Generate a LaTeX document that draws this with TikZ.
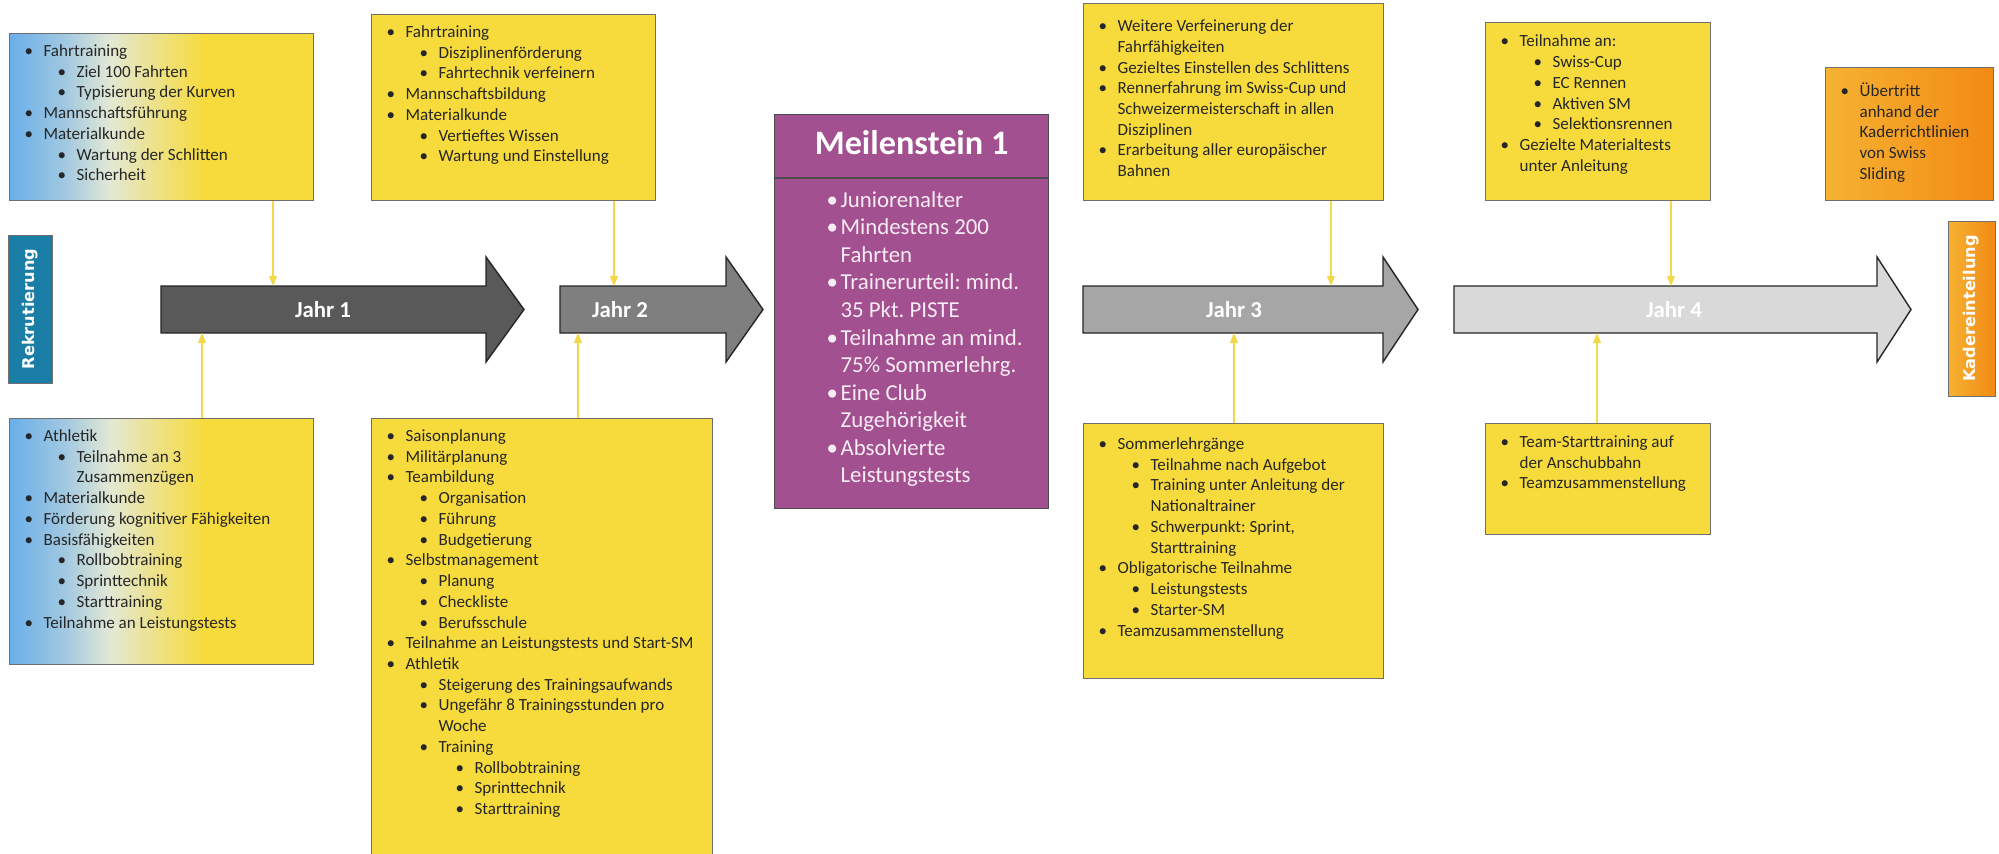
\documentclass[tikz,border=0pt]{standalone}
\usepackage{fontspec}
\setmainfont{Carlito}
\newfontfamily\balkenfont{DejaVu Sans}
\usepackage{enumitem}
\usetikzlibrary{arrows.meta}

\definecolor{gelb}{HTML}{F7DB3C}
\definecolor{rahmen}{HTML}{6F6F6F}
\definecolor{hellblau}{HTML}{6AAEEA}
\definecolor{blass}{HTML}{E3E8D5}
\definecolor{lila}{HTML}{A2508F}
\definecolor{lilaweiss}{HTML}{F8ECF5}
\definecolor{petrol}{HTML}{1A7DA6}
\definecolor{orangedunkel}{HTML}{F28A14}
\definecolor{orangehell}{HTML}{F6B232}
\definecolor{grauA}{HTML}{595959}
\definecolor{grauB}{HTML}{7F7F7F}
\definecolor{grauC}{HTML}{A6A6A6}
\definecolor{grauD}{HTML}{D9D9D9}
\definecolor{linie}{HTML}{F3D84A}

% Verlauf blau -> gelb fuer Jahr 1 (Kasten liegt zwischen 25bp und 75bp)
\pgfdeclarehorizontalshading{blaugelb}{100bp}{color(0bp)=(hellblau);
  color(25bp)=(hellblau); color(34bp)=(hellblau!55!blass); color(41.5bp)=(blass);
  color(49bp)=(gelb!50!blass); color(57bp)=(gelb); color(75bp)=(gelb); color(100bp)=(gelb)}

\frenchspacing
\setlist[itemize]{nosep, label=\textbullet, labelsep=6pt, leftmargin=0.66cm}
\setlist[itemize,1]{leftmargin=0.68cm}

% Kasteninhalt: [Listenoptionen]{Breite}{Hoehe}{Abstand oben}{Punkte}
\newcommand{\kastentext}[5][]{%
  \begin{minipage}[t][#3][t]{#2}\raggedright\hyphenpenalty=10000
  \vspace*{#4}\prevdepth=0pt
  \begin{itemize}[#1]#5\end{itemize}
  \end{minipage}}

\tikzset{kasten/.style = {draw=rahmen, line width=0.7pt, fill=gelb, anchor=north west,
                          inner sep=0pt, text=black!85,
                          font=\fontsize{9.7}{11.8}\selectfont}}
\tikzset{verlauf/.style = {kasten, shading=blaugelb}}
\tikzset{lilakasten/.style = {kasten, fill=lila, draw=black!70, text=lilaweiss,
                              font=\fontsize{13}{15.7}\selectfont}}
\tikzset{seitenbalken/.style = {draw=rahmen, line width=0.5pt, rotate=90, inner sep=0pt,
                                text=white, font=\balkenfont\bfseries\fontsize{9.2}{11}\selectfont}}
\tikzset{pfeil/.style = {draw=black!85, line width=0.8pt, line join=miter}}
\tikzset{pfeiltext/.style = {text=white, font=\bfseries\fontsize{13}{15}\selectfont}}
\tikzset{verbinder/.style = {draw=linie, line width=0.6pt,
                             -{Triangle[length=0.2cm, width=0.16cm]}}}

\begin{document}
\begin{tikzpicture}[x=0.02cm, y=-0.02cm]
  \useasboundingbox (0,0) rectangle (1999,853);
  \fill[white] (0,0) rectangle (1999,853);
  \clip (0,0) rectangle (1999,853);

  % Jahr-Pfeile
  \foreach \links/\kopf/\spitze/\farbe/\tx/\name/\beschr in
      {161/486/524/grauA/323/j1/Jahr 1, 560/726/763/grauB/620/j2/Jahr 2,
       1083/1383/1418/grauC/1234/j3/Jahr 3, 1454/1877/1911/grauD/1674/j4/Jahr 4} {
    \draw[pfeil, fill=\farbe] (\links,286) -- (\kopf,286) -- (\kopf,257) -- (\spitze,309.5)
        -- (\kopf,362) -- (\kopf,333) -- (\links,333) -- cycle;
    \node[pfeiltext] (\name) at (\tx,309.5) {\beschr};
  }

  % Rekrutierung / Kadereinteilung
  \node[seitenbalken, fill=petrol, minimum width=2.96cm, minimum height=0.88cm]
      (rekr) at (30,309) {Rekrutierung};
  \node[seitenbalken, left color=orangehell, right color=orangedunkel,
        minimum width=3.5cm, minimum height=0.94cm]
      (kader) at (1971.5,308.5) {Kadereinteilung};

  % Jahr 1
  \node[verlauf] (a1) at (9,33) {\kastentext{6.08cm}{3.34cm}{1.2pt}{%
    \item Fahrtraining
      \begin{itemize}
        \item Ziel 100 Fahrten
        \item Typisierung der Kurven
      \end{itemize}
    \item Mannschaftsführung
    \item Materialkunde
      \begin{itemize}
        \item Wartung der Schlitten
        \item Sicherheit
      \end{itemize}}};
  \node[verlauf] (b1) at (9,418) {\kastentext{6.08cm}{4.92cm}{1.2pt}{%
    \item Athletik
      \begin{itemize}
        \item Teilnahme an 3\\Zusammenzügen
      \end{itemize}
    \item Materialkunde
    \item Förderung kognitiver Fähigkeiten
    \item Basisfähigkeiten
      \begin{itemize}
        \item Rollbobtraining
        \item Sprinttechnik
        \item Starttraining
      \end{itemize}
    \item Teilnahme an Leistungstests}};

  % Jahr 2
  \node[kasten] (c2) at (371,14) {\kastentext{5.68cm}{3.72cm}{1.2pt}{%
    \item Fahrtraining
      \begin{itemize}
        \item Disziplinenförderung
        \item Fahrtechnik verfeinern
      \end{itemize}
    \item Mannschaftsbildung
    \item Materialkunde
      \begin{itemize}
        \item Vertieftes Wissen
        \item Wartung und Einstellung
      \end{itemize}}};
  \node[kasten] (d2) at (371,418) {\kastentext{6.82cm}{8.84cm}{1.2pt}{%
    \item Saisonplanung
    \item Militärplanung
    \item Teambildung
      \begin{itemize}
        \item Organisation
        \item Führung
        \item Budgetierung
      \end{itemize}
    \item Selbstmanagement
      \begin{itemize}
        \item Planung
        \item Checkliste
        \item Berufsschule
      \end{itemize}
    \item Teilnahme an Leistungstests und Start-SM
    \item Athletik
      \begin{itemize}
        \item Steigerung des Trainingsaufwands
        \item Ungefähr 8 Trainingsstunden pro\\Woche
        \item Training
          \begin{itemize}[leftmargin=0.72cm]
            \item Rollbobtraining
            \item Sprinttechnik
            \item Starttraining
          \end{itemize}
      \end{itemize}}};

  % Meilenstein 1
  \node[lilakasten, minimum width=5.48cm, minimum height=1.26cm, text=white, text depth=4pt,
        font=\bfseries\fontsize{19.5}{22}\selectfont] (m1titel) at (774,114) {Meilenstein 1};
  \node[lilakasten] (m1) at (m1titel.south west)
      {\kastentext[leftmargin=1.32cm, labelsep=1.5pt]{5.48cm}{6.6cm}{0.4pt}{%
    \item Juniorenalter
    \item Mindestens 200\\Fahrten
    \item Trainerurteil: mind.\\35 Pkt. PISTE
    \item Teilnahme an mind.\\75\% Sommerlehrg.
    \item Eine Club\\Zugehörigkeit
    \item Absolvierte\\Leistungstests}};

  % Jahr 3
  \node[kasten] (e3) at (1083,3) {\kastentext{6cm}{3.94cm}{4.1pt}{%
    \item Weitere Verfeinerung der\\Fahrfähigkeiten
    \item Gezieltes Einstellen des Schlittens
    \item Rennerfahrung im Swiss-Cup und\\Schweizermeisterschaft in allen\\Disziplinen
    \item Erarbeitung aller europäischer\\Bahnen}};
  \node[kasten] (f3) at (1083,423) {\kastentext{6cm}{5.1cm}{2.9pt}{%
    \item Sommerlehrgänge
      \begin{itemize}
        \item Teilnahme nach Aufgebot
        \item Training unter Anleitung der\\Nationaltrainer
        \item Schwerpunkt: Sprint,\\Starttraining
      \end{itemize}
    \item Obligatorische Teilnahme
      \begin{itemize}
        \item Leistungstests
        \item Starter-SM
      \end{itemize}
    \item Teamzusammenstellung}};

  % Jahr 4
  \node[kasten] (g4) at (1485,22) {\kastentext{4.5cm}{3.56cm}{2pt}{%
    \item Teilnahme an:
      \begin{itemize}
        \item Swiss-Cup
        \item EC Rennen
        \item Aktiven SM
        \item Selektionsrennen
      \end{itemize}
    \item Gezielte Materialtests\\unter Anleitung}};
  \node[kasten] (h4) at (1485,423) {\kastentext{4.5cm}{2.22cm}{1.8pt}{%
    \item Team-Starttraining auf\\der Anschubbahn
    \item Teamzusammenstellung}};

  % Uebertritt
  \node[kasten, left color=orangehell, right color=orangedunkel] (i5) at (1825,67)
      {\kastentext{3.36cm}{2.66cm}{4.6pt}{%
    \item Übertritt\\anhand der\\Kaderrichtlinien\\von Swiss\\Sliding}};

  % Verbinder
  \coordinate (j1o) at (273,286);
  \coordinate (j1u) at (202,333);
  \coordinate (j2o) at (614,286);
  \coordinate (j2u) at (578,333);
  \coordinate (j3o) at (1331,286);
  \coordinate (j3u) at (1234,333);
  \coordinate (j4o) at (1671,286);
  \coordinate (j4u) at (1597,333);
  \draw[verbinder] (a1.south -| j1o) -- (j1o);
  \draw[verbinder] (b1.north -| j1u) -- (j1u);
  \draw[verbinder] (c2.south -| j2o) -- (j2o);
  \draw[verbinder] (d2.north -| j2u) -- (j2u);
  \draw[verbinder] (e3.south -| j3o) -- (j3o);
  \draw[verbinder] (f3.north -| j3u) -- (j3u);
  \draw[verbinder] (g4.south -| j4o) -- (j4o);
  \draw[verbinder] (h4.north -| j4u) -- (j4u);
\end{tikzpicture}
\end{document}
